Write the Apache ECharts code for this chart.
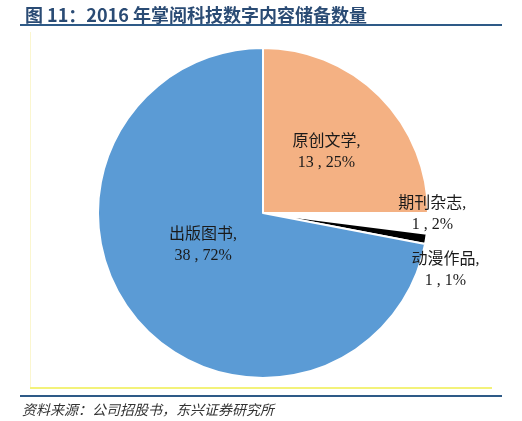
<!DOCTYPE html>
<html>
<head>
<meta charset="utf-8">
<script src="https://cdn.jsdelivr.net/npm/echarts@6/dist/echarts.min.js"></script>
<style>
html, body { margin: 0; padding: 0; background: #fff; }
#main { width: 522px; height: 421px; }
</style>
</head>
<body>
<div id="main"></div>
<script>
// 数据
var names = ['原创文学', '期刊杂志', '动漫作品', '出版图书'];
var counts = [13, 1, 1, 38];
var shares = [25, 2, 1, 72];
var colors = ['#f4b183', '#ffffff', '#000000', '#5b9bd5'];
// label nudges so labels sit where the report put them
var labelOffsets = [[3, 0], [84, -4], [98, 44], [6, -22]];

var myChart = echarts.init(document.getElementById('main'));

var pieData = [];
for (var i = 0; i < names.length; i++) {
    pieData.push({
        name: names[i],
        value: shares[i],
        count: counts[i],
        itemStyle: { color: colors[i] },
        label: { offset: labelOffsets[i] }
    });
}

option = {
    animation: false,
    title: {
        text: '图 11：2016 年掌阅科技数字内容储备数量',
        left: 20,
        top: 1,
        textStyle: {
            fontFamily: 'Noto Sans CJK SC',
            fontSize: 18,
            fontWeight: 'bold',
            color: '#2a4b74'
        }
    },
    graphic: [
        { type: 'line', shape: { x1: 20, y1: 25, x2: 502, y2: 25 }, style: { stroke: '#2e5a87', lineWidth: 2 } },
        { type: 'line', shape: { x1: 20, y1: 396, x2: 502, y2: 396 }, style: { stroke: '#2e5a87', lineWidth: 2 } },
        { type: 'line', shape: { x1: 30.5, y1: 32, x2: 30.5, y2: 388 }, style: { stroke: '#fbf6cf', lineWidth: 1 } },
        { type: 'line', shape: { x1: 30, y1: 388, x2: 492, y2: 388 }, style: { stroke: '#f3f27a', lineWidth: 2 } },
        {
            type: 'text', left: 22, top: 403,
            style: {
                text: '资料来源：公司招股书，东兴证券研究所',
                font: 'italic 14px "Noto Sans CJK SC"',
                fill: '#333333'
            }
        }
    ],
    series: [
        {
            type: 'pie',
            center: [263, 213],
            radius: 165,
            startAngle: 90,
            clockwise: true,
            avoidLabelOverlap: false,
            itemStyle: { borderColor: '#ffffff', borderWidth: 2 },
            label: {
                position: 'inside',
                fontFamily: '"Liberation Serif", "Noto Sans CJK SC"',
                fontSize: 16,
                lineHeight: 21,
                color: '#1a1a1a',
                formatter: function(p) {
                    return p.name + ',\n' + p.data.count + ' , ' + p.value + '%';
                }
            },
            labelLine: { show: false },
            emphasis: { disabled: true },
            data: pieData
        }
    ]
};

myChart.setOption(option);
</script>
</body>
</html>
